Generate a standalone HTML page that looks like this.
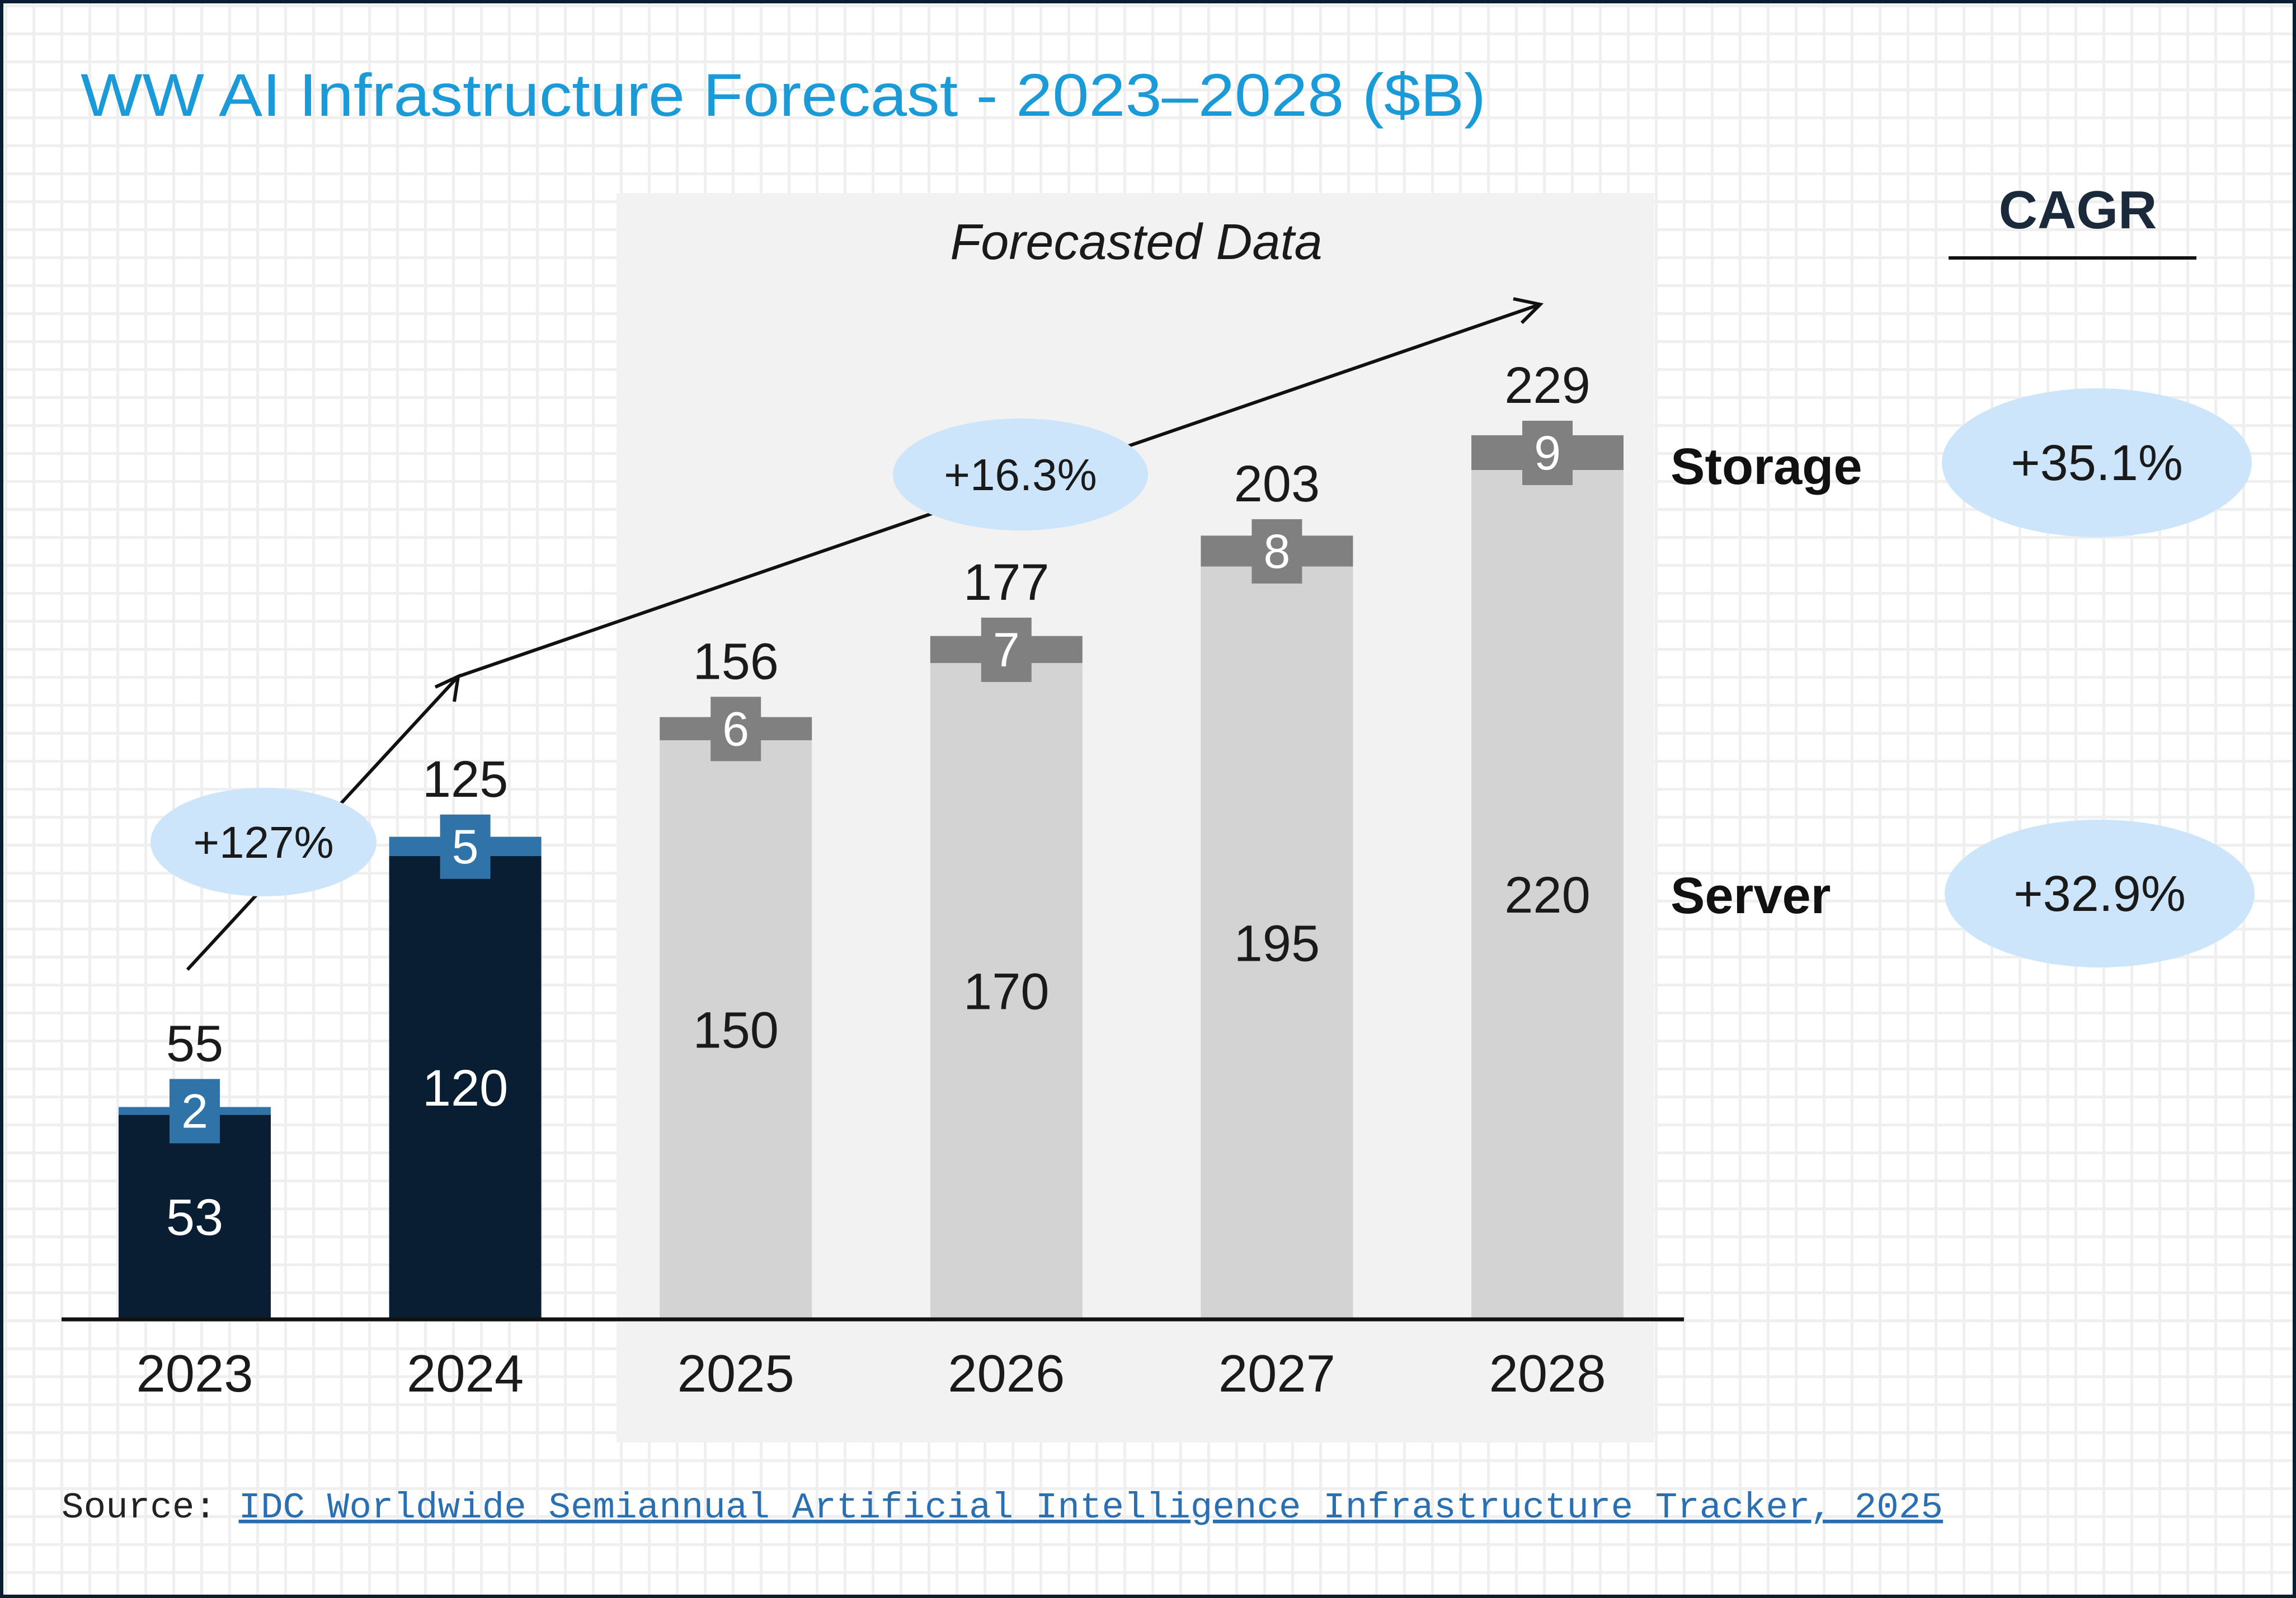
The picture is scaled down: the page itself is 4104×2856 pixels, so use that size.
<!DOCTYPE html>
<html><head><meta charset="utf-8">
<style>
html,body{margin:0;padding:0;background:#fff;}
svg{display:block;font-family:"Liberation Sans",sans-serif;}
</style></head>
<body>
<svg id="chart" width="4104" height="2856" viewBox="0 0 4104 2856" xmlns="http://www.w3.org/2000/svg">
<defs>
<pattern id="grid" width="50" height="50" patternUnits="userSpaceOnUse" x="8" y="8">
<rect width="50" height="50" fill="#ffffff"/>
<rect x="0" y="0" width="5" height="50" fill="#efefef"/>
<rect x="0" y="0" width="50" height="5" fill="#efefef"/>
</pattern>
</defs>
<rect x="0" y="0" width="4104" height="2856" fill="url(#grid)"/>
<rect x="3" y="3" width="4098" height="2850" fill="none" stroke="#0a1e33" stroke-width="6"/>
<text x="144" y="207" font-size="108" font-weight="500" fill="#1b9ad8" textLength="2512" lengthAdjust="spacingAndGlyphs">WW AI Infrastructure Forecast - 2023–2028  ($B)</text>
<rect x="1102" y="345" width="1855" height="2233" fill="#f2f2f2"/>
<text x="2031" y="463" font-size="90" font-style="italic" fill="#1a1a1a" text-anchor="middle">Forecasted Data</text>
<g id="bars"></g>
<line x1="110" y1="2358" x2="3010" y2="2358" stroke="#111" stroke-width="7"/>
<g stroke="#111" stroke-width="6" fill="none">
<polyline points="335,1733 819,1209 2753,544"/>
<polyline points="778,1228 819,1209 812,1254"/>
<polyline points="2705,534 2753,544 2720,577"/>
</g>
<ellipse cx="471" cy="1505" rx="202" ry="97" fill="#cde5fa"/>
<text x="471" y="1533" font-size="80" fill="#1a1a1a" text-anchor="middle">+127%</text>
<ellipse cx="1824" cy="848" rx="228" ry="100" fill="#cde5fa"/>
<text x="1824" y="876" font-size="80" fill="#1a1a1a" text-anchor="middle">+16.3%</text>
<text x="3714" y="408" font-size="96" font-weight="bold" fill="#1a2a3a" text-anchor="middle">CAGR</text>
<line x1="3483" y1="461" x2="3926" y2="461" stroke="#111" stroke-width="6"/>
<text x="2986" y="865" font-size="92" font-weight="bold" fill="#111">Storage</text>
<text x="2986" y="1632" font-size="92" font-weight="bold" fill="#111">Server</text>
<ellipse cx="3748" cy="827" rx="277" ry="133" fill="#cde5fa"/>
<text x="3748" y="858" font-size="90" fill="#1a1a1a" text-anchor="middle">+35.1%</text>
<ellipse cx="3753" cy="1597" rx="277" ry="132" fill="#cde5fa"/>
<text x="3753" y="1628" font-size="90" fill="#1a1a1a" text-anchor="middle">+32.9%</text>
<text x="110" y="2712" font-family="Liberation Mono, monospace" font-size="65" fill="#222" textLength="3363" lengthAdjust="spacingAndGlyphs">Source: <tspan fill="#2a6fb0" text-decoration="underline">IDC Worldwide Semiannual Artificial Intelligence Infrastructure Tracker, 2025</tspan></text>
</svg>
<script>
const years = ["2023","2024","2025","2026","2027","2028"];
const serverValues = [53,120,150,170,195,220];
const storageValues = [2,5,6,7,8,9];
const totalLabels = [55,125,156,177,203,229];
const actualCount = 2;

const NS = "http://www.w3.org/2000/svg";
const baseY = 2358, pxPerUnit = 6.9;
const firstX = 348, step = 483.6, barW = 272;
function xCenter(i){ return firstX + i*step; }
function yVal(v){ return baseY - v*pxPerUnit; }
const g = document.getElementById("bars");
function mk(tag, attrs){ const e=document.createElementNS(NS,tag); for(const k in attrs) e.setAttribute(k,attrs[k]); g.appendChild(e); return e; }

years.forEach((yr,i)=>{
  const actual = i < actualCount;
  const cx = xCenter(i);
  const sv = serverValues[i], st = storageValues[i];
  const serverColor = actual ? "#0a1e33" : "#d3d3d3";
  const storageColor = actual ? "#2f73a8" : "#808080";
  const serverText = actual ? "#ffffff" : "#1a1a1a";
  const s = mk("rect",{x:cx-barW/2,y:yVal(sv),width:barW,height:sv*pxPerUnit,fill:serverColor});
  
  
  const topY = yVal(sv+st);
  const sb = mk("rect",{x:cx-barW/2,y:topY,width:barW,height:st*pxPerUnit,fill:storageColor});
  
  
  const midSt = (topY + yVal(sv))/2;
  const box = mk("rect",{x:cx-45,y:midSt-57,width:90,height:115,fill:storageColor});
  
  
  const stT = mk("text",{x:cx,y:midSt+30,"font-size":86,fill:"#ffffff","text-anchor":"middle"});
  stT.textContent = st;
  
  
  const svT = mk("text",{x:cx,y:(yVal(sv)+baseY)/2+32,"font-size":92,fill:serverText,"text-anchor":"middle"});
  svT.textContent = sv;
  
  
  const tT = mk("text",{x:cx,y:midSt-57-32,"font-size":92,fill:"#1a1a1a","text-anchor":"middle"});
  tT.textContent = totalLabels[i];
  
  
  const yT = mk("text",{x:cx,y:2487,"font-size":94,fill:"#1a1a1a","text-anchor":"middle"});
  yT.textContent = yr;
  
  
});
</script>
</body></html>
